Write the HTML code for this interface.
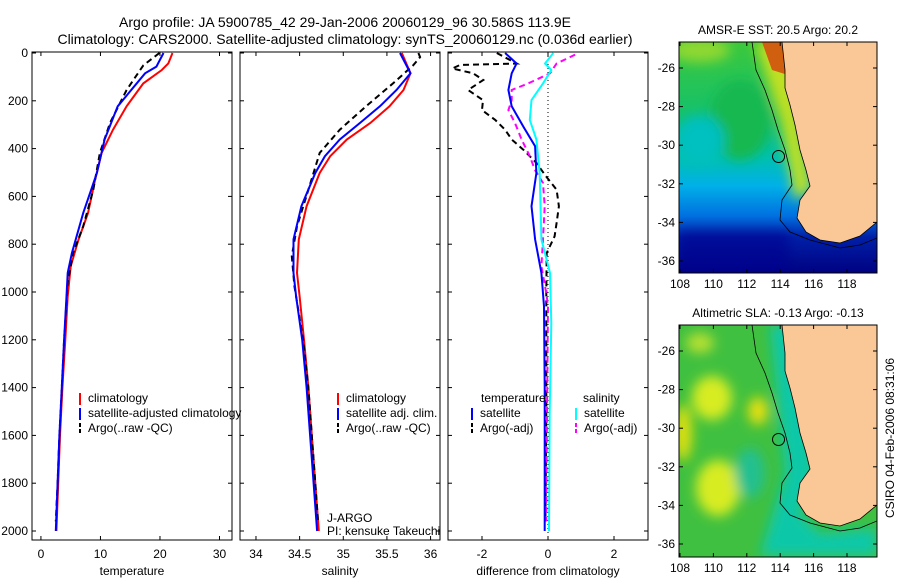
<!DOCTYPE html>
<html><head><meta charset="utf-8"><style>
body{margin:0;background:#fff}
svg{display:block;font-family:"Liberation Sans",sans-serif}
</style></head><body>
<svg id="c" width="900" height="580" xmlns="http://www.w3.org/2000/svg">
<defs>
<clipPath id="m1"><rect x="679" y="42" width="198" height="231"/></clipPath>
<clipPath id="m2"><rect x="679" y="325" width="198" height="232"/></clipPath>
<clipPath id="p1"><rect x="32" y="52" width="200" height="488"/></clipPath>
<clipPath id="p2"><rect x="240" y="52" width="200" height="488"/></clipPath>
<clipPath id="p3"><rect x="448" y="52" width="200" height="488"/></clipPath>
<linearGradient id="sst" x1="0" y1="0" x2="0" y2="1">
<stop offset="0" stop-color="#3cc83c"/><stop offset="0.35" stop-color="#10c070"/>
<stop offset="0.5" stop-color="#00c0b0"/><stop offset="0.62" stop-color="#00b0e8"/>
<stop offset="0.75" stop-color="#0070e0"/><stop offset="0.84" stop-color="#0020a8"/>
<stop offset="1" stop-color="#000080"/></linearGradient>
<filter id="bl"><feGaussianBlur stdDeviation="6"/></filter>
</defs>
<g id="plots"></g>
<g id="maps"></g>
</svg>
<script>
const depths=[0,44,71,127,223,321,418,530,670,782,893,1018,1200,1400,1600,1800,2000];
const tClim=[22.1,21.4,20.3,17.2,14.4,12.1,10.2,9.1,7.9,6.3,5.0,4.5,4.1,3.6,3.2,2.9,2.6];
const tSatD=[0,57,85,223,362,502,670,837,920,1018,1200,1400,1600,1800,2000];
const tSat=[20.6,19.4,17.5,12.9,10.7,9.4,7.1,5.2,4.5,4.3,3.9,3.5,3.1,2.8,2.5];
const tArgoD=[0,52,155,293,418,572,725,837,960,1200,1400,1600,1800,1960];
const tArgo=[19.9,17.2,14.4,11.6,9.9,8.8,7.1,5.4,4.5,3.9,3.5,3.1,2.8,2.5];
const sClimD=[0,85,155,223,293,362,432,502,641,780,920,1018,1200,1400,1600,1800,2000];
const sClim=[35.67,35.77,35.69,35.53,35.31,35.04,34.85,34.73,34.58,34.49,34.47,34.50,34.55,34.6,34.64,34.68,34.72];
const sSatD=[0,85,155,223,293,362,432,502,641,780,920,1018,1200,1400,1600,1800,2000];
const sSat=[35.65,35.77,35.61,35.42,35.19,34.96,34.79,34.68,34.52,34.43,34.43,34.46,34.53,34.58,34.62,34.66,34.70];
const sArgoD=[0,17,52,127,223,321,418,572,725,850,975,1200,1400,1600,1800,1960];
const sArgo=[35.86,35.88,35.8,35.57,35.26,34.96,34.73,34.6,34.47,34.41,34.44,34.54,34.6,34.64,34.68,34.71];
const dTSatD=[0,44,85,155,223,307,390,502,641,780,920,1060,1400,2000];
const dTSat=[-1.3,-0.95,-1.1,-1.2,-1.1,-0.75,-0.39,-0.35,-0.5,-0.39,-0.2,-0.12,-0.1,-0.1];
const dSSatD=[0,44,71,127,197,280,362,502,780,920,1130,1500,2000];
const dSSat=[0.16,-0.09,0.1,-0.15,-0.5,-0.55,-0.35,-0.25,-0.2,0.06,0.1,0.05,0.03];
const dTArgoD=[0,44,50,65,85,113,155,197,239,280,321,362,404,460,516,572,641,711,767,837,1000,1500,1960];
const dTArgo=[-1.55,-0.95,-2.67,-2.9,-2.27,-1.96,-2.42,-1.97,-2.0,-1.6,-1.3,-1.1,-0.75,-0.35,-0.06,0.26,0.33,0.26,0.2,-0.04,-0.05,-0.05,-0.08];
const dSArgoD=[7,44,85,127,155,197,239,293,362,432,488,544,641,780,893,1004,1060,1500,1960];
const dSArgo=[0.82,0.26,0.06,-0.6,-1.1,-1.1,-1.2,-1.0,-0.8,-0.55,-0.4,-0.15,-0.1,-0.15,-0.2,-0.05,0,-0.03,-0.05];
const yTicks=[0,200,400,600,800,1000,1200,1400,1600,1800,2000];
const tTicks=[0,10,20,30], sTicks=[34,34.5,35,35.5,36], dTicks=[-2,0,2];
const latTicks=[-26,-28,-30,-32,-34,-36], lonTicks=[108,110,112,114,116,118];

const NS='http://www.w3.org/2000/svg';
const P=document.getElementById('plots'), M=document.getElementById('maps');
function el(t,a,p){const e=document.createElementNS(NS,t);for(const k in a)e.setAttribute(k,a[k]);(p||P).appendChild(e);return e;}
const Y=d=>53+d*0.239;
const panels=[{x0:32,lo:-1.5,hi:32.1,ticks:tTicks,lab:'temperature',clip:'p1',n:'temperature'},
{x0:240,lo:33.817,hi:36.108,ticks:sTicks,lab:'salinity',clip:'p2',n:'salinity'},
{x0:448,lo:-3.03,hi:3.03,ticks:dTicks,lab:'difference from climatology',clip:'p3',n:'difference'}];
panels.forEach((p,i)=>{p.X=v=>p.x0+(v-p.lo)/(p.hi-p.lo)*200;
 const g=el('g',{});
 
 
 const r=el('rect',{x:p.x0,y:52,width:200,height:488,fill:'none',stroke:'#000','stroke-width':1},g);
 
 yTicks.forEach(d=>{el('line',{x1:p.x0,x2:p.x0+4,y1:Y(d),y2:Y(d),stroke:'#000'},g);el('line',{x1:p.x0+196,x2:p.x0+200,y1:Y(d),y2:Y(d),stroke:'#000'},g);
  if(i==0){const t=el('text',{x:28,y:Y(d)+4,'text-anchor':'end','font-size':12},g);t.textContent=d;}});
 p.ticks.forEach(v=>{const x=p.X(v);el('line',{x1:x,x2:x,y1:52,y2:56,stroke:'#000'},g);el('line',{x1:x,x2:x,y1:536,y2:540,stroke:'#000'},g);
  const t=el('text',{x:x,y:558,'text-anchor':'middle','font-size':12},g);t.textContent=v;});
 const t=el('text',{x:p.x0+100,y:575,'text-anchor':'middle','font-size':12},g);t.textContent=p.lab;
});
function line(pi,vals,ds,col,dash,name){const p=panels[pi];
 const d=vals.map((v,k)=>(k?'L':'M')+p.X(v).toFixed(1)+','+Y(ds[k]).toFixed(1)).join('');
 const e=el('path',{d:d,fill:'none',stroke:col,'stroke-width':2,'stroke-dasharray':dash||'none','clip-path':'url(#'+p.clip+')'});
 }
line(0,tClim,depths,'#f00',null,'temp-climatology-line');
line(0,tArgo,tArgoD,'#000','6,4','temp-argo-line');
line(0,tSat,tSatD,'#00f',null,'temp-satellite-line');
line(1,sClim,sClimD,'#f00',null,'sal-climatology-line');
line(1,sArgo,sArgoD,'#000','6,4','sal-argo-line');
line(1,sSat,sSatD,'#00f',null,'sal-satellite-line');
const z=el('line',{x1:panels[2].X(0),x2:panels[2].X(0),y1:52,y2:540,stroke:'#000','stroke-dasharray':'1,3'});

line(2,dTArgo,dTArgoD,'#000','6,4','diff-temp-argo-line');
line(2,dSArgo,dSArgoD,'#f0f','6,4','diff-sal-argo-line');
line(2,dSSat,dSSatD,'#0ff',null,'diff-sal-satellite-line');
line(2,dTSat,dTSatD,'#00f',null,'diff-temp-satellite-line');

function leg(x,y,col,dash,txt){const g=el('g',{});
 
 el('line',{x1:x,x2:x,y1:y-9,y2:y+3,stroke:col,'stroke-width':2,'stroke-dasharray':dash||'none'},g);
 const t=el('text',{x:x+8,y:y,'font-size':12},g);t.textContent=txt;}
leg(80,402,'#f00',null,'climatology');leg(80,417,'#00f',null,'satellite-adjusted climatology');leg(80,432,'#000','4,2','Argo(..raw -QC)');
leg(338,402,'#f00',null,'climatology');leg(338,417,'#00f',null,'satellite adj. clim.');leg(338,432,'#000','4,2','Argo(..raw -QC)');
[['temperature',481,402],['salinity',583,402]].forEach(a=>{const t=el('text',{x:a[1],y:a[2],'font-size':12});t.textContent=a[0];});
leg(472,417,'#00f',null,'satellite');leg(472,432,'#000','4,2','Argo(-adj)');
leg(576,417,'#0ff',null,'satellite');leg(576,432,'#f0f','4,2','Argo(-adj)');
const pi=el('text',{x:327,y:522,'font-size':12});pi.textContent='J-ARGO';
const pi2=el('text',{x:327,y:535,'font-size':12});pi2.textContent='PI: kensuke Takeuchi';
const t1=el('text',{x:345,y:27,'text-anchor':'middle','font-size':14});t1.textContent='Argo profile: JA 5900785_42 29-Jan-2006 20060129_96 30.586S 113.9E';
const t2=el('text',{x:345,y:44,'text-anchor':'middle','font-size':14});t2.textContent='Climatology: CARS2000. Satellite-adjusted climatology: synTS_20060129.nc (0.036d earlier)';

// maps
const LX=lon=>680+(lon-108)*16.7;
const land='M790,42 L877,42 L877,222 L860,236 L840,243 L820,240 L806,232 L797,218 L800,200 L810,186 L806,170 L800,150 L795,125 L790,105 L785,88 L785,70 L782,42Z';
const iso='M752,42 L756,70 L765,90 L772,110 L778,130 L785,150 L790,170 L792,185 L782,200 L780,220 L790,232 L810,240 L840,248 L860,245 L877,238';
function map(oy,clip,kind,title){const g=el('g',{},M);
 
 const LY=lat=>oy+26+(-26-lat)*19.3;
 const c=el('g',{'clip-path':'url(#'+clip+')'},g);
 const tr='translate(0,'+(oy-42)+')';
 if(kind=='sst'){
  el('rect',{x:679,y:oy,width:198,height:232,fill:'url(#sst)'},c);
  const b=el('g',{filter:'url(#bl)',transform:tr},c);
  el('ellipse',{cx:740,cy:120,rx:30,ry:40,fill:'#12b850'},b);
  el('ellipse',{cx:700,cy:140,rx:25,ry:25,fill:'#00c0c0'},b);
  el('ellipse',{cx:700,cy:50,rx:30,ry:12,fill:'#90d830'},b);
  el('path',{d:'M755,42 L790,42 L800,120 L812,190 L795,200 L780,120Z',fill:'#c0e020'},b);
  el('path',{d:'M762,42 L785,42 L788,75 L772,70Z',fill:'#d06010'},c);
  el('rect',{x:679,y:oy+190,width:110,height:45,fill:'#000090',opacity:0.6},b);
 } else {
  el('rect',{x:679,y:oy,width:198,height:232,fill:'#40c040'},c);
  const b=el('g',{filter:'url(#bl)',transform:tr},c);
  el('ellipse',{cx:712,cy:115,rx:20,ry:22,fill:'#d8ec20'},b);
  el('ellipse',{cx:683,cy:150,rx:9,ry:28,fill:'#e0e010'},b);
  el('ellipse',{cx:758,cy:128,rx:10,ry:14,fill:'#e8e010'},b);
  el('ellipse',{cx:718,cy:205,rx:22,ry:28,fill:'#d8ec20'},b);
  el('ellipse',{cx:700,cy:60,rx:14,ry:10,fill:'#b8e030'},b);
  el('ellipse',{cx:750,cy:190,rx:15,ry:25,fill:'#20c090'},b);
  el('path',{d:'M770,42 L800,42 L815,190 L800,230 L820,250 L877,245 L877,273 L760,273 L785,190 Z',fill:'#10c8a8'},b);
 }
 el('path',{d:land,fill:'#f9c896',stroke:'#000','stroke-width':0.8,transform:tr},c);
 el('path',{d:iso,fill:'none',stroke:'#000','stroke-width':0.8,transform:tr},c);
 const o=el('circle',{cx:LX(113.9),cy:LY(-30.586),r:6,fill:'none',stroke:'#000'},g);
 
 el('rect',{x:679,y:oy,width:198,height:clip=='m1'?231:232,fill:'none',stroke:'#000'},g);
 latTicks.forEach(l=>{el('line',{x1:679,x2:683,y1:LY(l),y2:LY(l),stroke:'#000'},g);el('line',{x1:873,x2:877,y1:LY(l),y2:LY(l),stroke:'#000'},g);
  const t=el('text',{x:675,y:LY(l)+4,'text-anchor':'end','font-size':12},g);t.textContent=l;});
 const bot=oy+(clip=='m1'?231:232);
 lonTicks.forEach(l=>{el('line',{x1:LX(l),x2:LX(l),y1:oy,y2:oy+4,stroke:'#000'},g);el('line',{x1:LX(l),x2:LX(l),y1:bot-4,y2:bot,stroke:'#000'},g);
  const t=el('text',{x:LX(l),y:bot+15,'text-anchor':'middle','font-size':12},g);t.textContent=l;});
 const tt=el('text',{x:778,y:oy-8,'text-anchor':'middle','font-size':12},g);tt.textContent=title;
}
map(42,'m1','sst','AMSR-E SST: 20.5 Argo: 20.2');
map(325,'m2','sla','Altimetric SLA: -0.13 Argo: -0.13');
const cs=el('text',{x:0,y:0,'text-anchor':'middle','font-size':12,transform:'translate(894,438) rotate(-90)'},M);
cs.textContent='CSIRO 04-Feb-2006 08:31:06';
</script>
</body></html>
